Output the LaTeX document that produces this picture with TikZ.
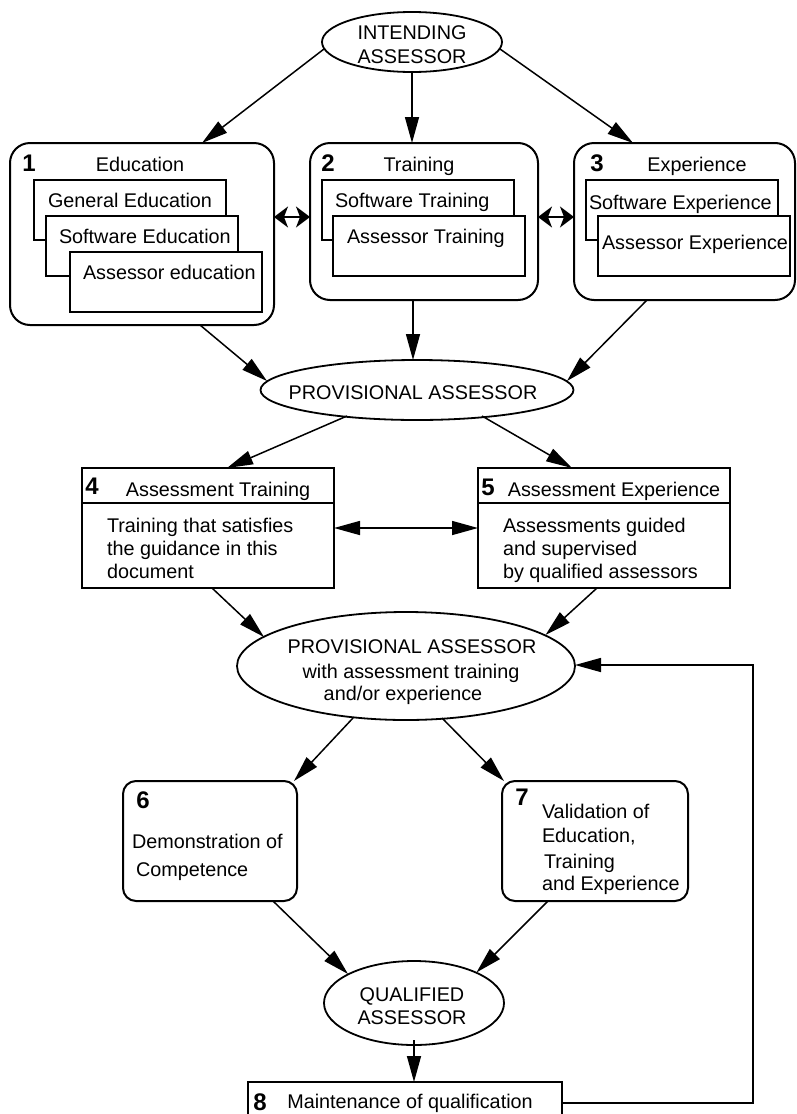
\documentclass[tikz,border=0pt]{standalone}
\usepackage{fontspec}
\setmainfont{Liberation Sans}
\usetikzlibrary{arrows.meta,shapes.geometric}
\begin{document}
\begin{tikzpicture}[x=1pt,y=-1pt,
  every node/.style={inner sep=0pt, outer sep=0pt},
  txt/.style={font=\fontsize{19.8pt}{23pt}\selectfont, anchor=base},
  ltxt/.style={txt, anchor=base west},
  num/.style={font=\fontsize{24pt}{24pt}\selectfont\bfseries, anchor=base},
  bigbox/.style={draw, line width=2pt, rounded corners=20pt},
  rndbox/.style={draw, line width=2pt, rounded corners=13pt},
  subbox/.style={draw, line width=1.5pt, fill=white, anchor=north west,
                 minimum width=192pt, minimum height=60pt},
  plainbox/.style={draw, line width=1.8pt},
  oval/.style={draw, ellipse, line width=1.8pt},
  arr/.style={line width=1.5pt, -{Triangle[length=26pt,width=14pt]}},
  twoway/.style={line width=1.5pt,
     {Stealth[length=14pt,width=21pt,inset=4pt]}-{Stealth[length=14pt,width=21pt,inset=4pt]}},
  twowaylong/.style={line width=1.5pt,
     {Triangle[length=26pt,width=14pt]}-{Triangle[length=26pt,width=14pt]}}
]
\useasboundingbox (0,0) rectangle (796,1114);

% ---- entry point
\node[oval, minimum width=180pt, minimum height=60pt] (ia) at (412,42) {};
\node[txt] (ia-t1) at (412,39) {INTENDING};
\node[txt] (ia-t2) at (412,63) {ASSESSOR};

% ---- 1 Education
\node[bigbox, minimum width=264pt, minimum height=182pt] (b1) at (142,234) {};
\node[num] (n1) at (29,171) {1};
\node[txt] (h1) at (140,171) {Education};
\node[subbox] (ge) at (34,180) {};
\node[ltxt] (ge-t) at (48,207) {General Education};
\node[subbox] (se) at (46,216) {};
\node[ltxt] (se-t) at (59,243) {Software Education};
\node[subbox] (ae) at (70,252) {};
\node[ltxt] (ae-t) at (83,279) {Assessor education};

% ---- 2 Training
\node[bigbox, minimum width=228pt, minimum height=157pt] (b2) at (424,221.5) {};
\node[num] (n2) at (328,171) {2};
\node[txt] (h2) at (419,171) {Training};
\node[subbox] (st) at (322,180) {};
\node[ltxt] (st-t) at (335,207) {Software Training};
\node[subbox] (atr) at (333,216) {};
\node[ltxt] (atr-t) at (347,243) {Assessor Training};

% ---- 3 Experience
\node[bigbox, minimum width=221pt, minimum height=157pt] (b3) at (684.5,221.5) {};
\node[num] (n3) at (597,171) {3};
\node[txt] (h3) at (697,171) {Experience};
\node[subbox] (sx) at (586,180) {};
\node[ltxt] (sx-t) at (589,209) {Software Experience};
\node[subbox] (ax) at (598,216) {};
\node[ltxt] (ax-t) at (602,249) {Assessor Experience};

% ---- provisional assessor
\node[oval, minimum width=313pt, minimum height=60pt] (pa) at (417,390) {};
\node[txt] (pa-t) at (413,399) {PROVISIONAL ASSESSOR};

% ---- 4 Assessment Training
\node[plainbox, minimum width=252pt, minimum height=120pt] (b4) at (208,528) {};
\draw[line width=1.8pt] ([yshift=-35pt]b4.north west) -- ([yshift=-35pt]b4.north east);
\node[num] (n4) at (92,494) {4};
\node[txt] (h4) at (218,496) {Assessment Training};
\node[ltxt] (b4-l1) at (107,532) {Training that satisfies};
\node[ltxt] (b4-l2) at (107,555) {the guidance in this};
\node[ltxt] (b4-l3) at (107,578) {document};

% ---- 5 Assessment Experience
\node[plainbox, minimum width=252pt, minimum height=120pt] (b5) at (604,528) {};
\draw[line width=1.8pt] ([yshift=-35pt]b5.north west) -- ([yshift=-35pt]b5.north east);
\node[num] (n5) at (488,495) {5};
\node[txt] (h5) at (614,496) {Assessment Experience};
\node[ltxt] (b5-l1) at (503,532) {Assessments guided};
\node[ltxt] (b5-l2) at (503,555) {and supervised};
\node[ltxt] (b5-l3) at (503,578) {by qualified assessors};

% ---- provisional assessor with training / experience
\node[oval, minimum width=338pt, minimum height=108pt] (pb) at (406,666) {};
\node[txt] (pb-t1) at (412,653) {PROVISIONAL ASSESSOR};
\node[txt] (pb-t2) at (411,678) {with assessment training};
\node[txt] (pb-t3) at (403,700) {and/or experience};

% ---- 6 Demonstration of Competence
\node[rndbox, minimum width=174pt, minimum height=120pt] (b6) at (210,841) {};
\node[num] (n6) at (143,808) {6};
\node[ltxt] (b6-l1) at (132,848) {Demonstration of};
\node[ltxt] (b6-l2) at (136,876) {Competence};

% ---- 7 Validation
\node[rndbox, minimum width=186pt, minimum height=120pt] (b7) at (595,841) {};
\node[num] (n7) at (522,805) {7};
\node[ltxt] (b7-l1) at (542,818) {Validation of};
\node[ltxt] (b7-l2) at (542,842) {Education,};
\node[ltxt] (b7-l3) at (544,868) {Training};
\node[ltxt] (b7-l4) at (542,890) {and Experience};

% ---- qualified assessor
\node[oval, minimum width=180pt, minimum height=84pt] (qa) at (414,1003) {};
\node[txt] (qa-t1) at (412,1001) {QUALIFIED};
\node[txt] (qa-t2) at (412,1024) {ASSESSOR};

% ---- 8 Maintenance
\node[plainbox, minimum width=314pt, minimum height=42pt] (b8) at (405,1103) {};
\node[num] (n8) at (260,1110) {8};
\node[txt] (h8) at (410,1108) {Maintenance of qualification};

% ---- connectors
\draw[arr] ([shift={(-88,7)}]ia.center) -- ([xshift=60pt]b1.north);
\draw[arr] (ia.south) -- (ia.south |- b2.north);
\draw[arr] ([shift={(88,7)}]ia.center) -- ([xshift=-51.5pt]b3.north);

\draw[twoway] ([yshift=17pt]b1.east) -- ([yshift=17pt]b1.east -| b2.west);
\draw[twoway] ([yshift=4.5pt]b2.east) -- ([yshift=4.5pt]b2.east -| b3.west);

\draw[arr] ([xshift=58pt]b1.south) -- ([shift={(-150,-9)}]pa.center);
\draw[arr] ([xshift=-11pt]b2.south) -- ([xshift=-11pt]b2.south |- pa.north);
\draw[arr] ([xshift=-37.5pt]b3.south) -- ([shift={(150,-9)}]pa.center);

\draw[arr] ([shift={(-70,26)}]pa.center) -- ([xshift=19pt]b4.north);
\draw[arr] ([shift={(65,26)}]pa.center) -- ([xshift=-32pt]b5.north);

\draw[twowaylong] (b4.east) -- (b5.west);

\draw[arr] ([xshift=4pt]b4.south) -- ([shift={(-142,-29)}]pb.center);
\draw[arr] ([xshift=-7pt]b5.south) -- ([shift={(139.5,-31)}]pb.center);

\draw[arr] ([shift={(-53,52)}]pb.center) -- ([xshift=-3pt]b6.north east);
\draw[arr] ([shift={(36,52)}]pb.center) -- ([xshift=2pt]b7.north west);

\draw[arr] ([xshift=63pt]b6.south) -- ([shift={(-66,-29)}]qa.center);
\draw[arr] ([xshift=-47pt]b7.south) -- ([shift={(62.5,-30.6)}]qa.center);

\draw[arr] ([yshift=5pt]qa.south) -- (qa.south |- b8.north);

\coordinate (fb) at (753,665);
\draw[arr] (b8.east) -| (fb) -- (fb -| pb.east);
\end{tikzpicture}
\end{document}
